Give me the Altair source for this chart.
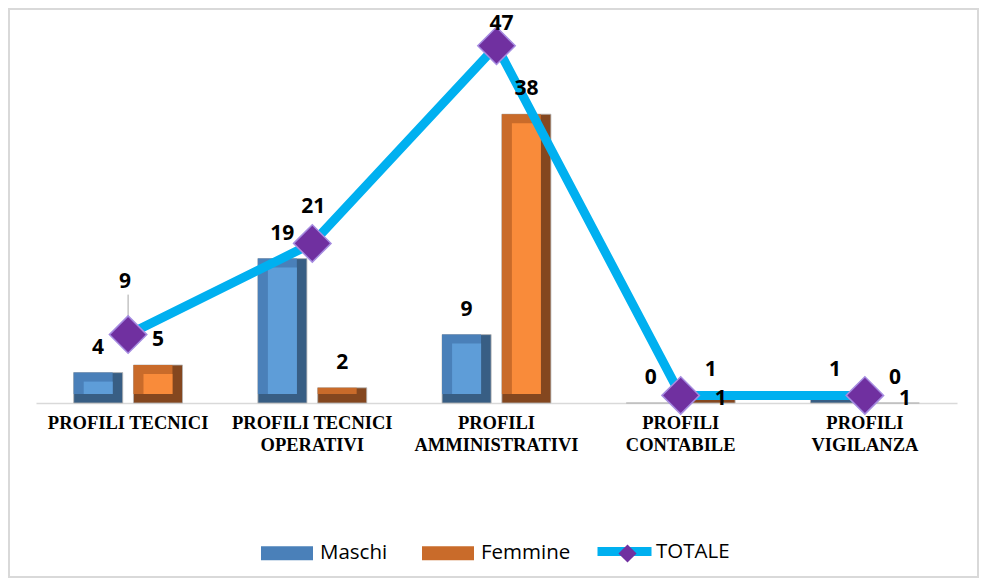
import altair as alt
import pandas as pd

categorie = ["PROFILI TECNICI", "PROFILI TECNICI OPERATIVI", "PROFILI AMMINISTRATIVI",
             "PROFILI CONTABILE", "PROFILI VIGILANZA"]
maschi = [4, 19, 9, 0, 1]
femmine = [5, 2, 38, 1, 0]
totale = [9, 21, 47, 1, 1]
serie = ["Maschi", "Femmine"]

rows = []
for c, m, f in zip(categorie, maschi, femmine):
    rows.append({"Categoria": c, "Serie": "Maschi", "Valore": m})
    rows.append({"Categoria": c, "Serie": "Femmine", "Valore": f})
bars_df = pd.DataFrame(rows)
tot_df = pd.DataFrame({"Categoria": categorie, "Totale": totale, "Serie": "TOTALE"})

label_expr = ("datum.value == 'PROFILI TECNICI' ? datum.value : "
              "datum.value == 'PROFILI TECNICI OPERATIVI' ? ['PROFILI TECNICI', 'OPERATIVI'] : "
              "split(datum.value, ' ')")

x_enc = alt.X("Categoria:N", sort=categorie,
              scale=alt.Scale(domain=categorie, paddingInner=0, paddingOuter=0),
              axis=alt.Axis(title=None, labelAngle=0, ticks=False, domainColor="#D9D9D9",
                            domainWidth=1.5, labelFont="Liberation Serif", labelFontWeight="bold",
                            labelFontSize=18.5, labelColor="#000000", labelPadding=10,
                            labelLineHeight=22, labelBaseline="top", labelExpr=label_expr,
                            labelLimit=300))
y_scale = alt.Scale(domain=[0, 50])


def xoff(pi, po, align=0.5):
    return alt.XOffset("Serie:N", sort=serie,
                       scale=alt.Scale(domain=serie, paddingInner=pi, paddingOuter=po,
                                       align=align))


base = alt.Chart(bars_df)
is_m = alt.datum.Serie == "Maschi"

# outer body (right side / bottom facet)
outer = base.mark_bar(strokeWidth=0.8, stroke="#B5B5B5").encode(
    x=x_enc,
    xOffset=xoff(0.18, 0.63),
    y=alt.Y("Valore:Q", scale=y_scale, axis=None),
    color=alt.condition(is_m, alt.value("#385E84"), alt.value("#84471F")),
)

# left side facet (carries the legend)
side = base.transform_filter(alt.datum.Valore >= 2).mark_bar(y2Offset=-9).encode(
    x=x_enc,
    xOffset=xoff(0.348, 0.714, 0.441),
    y=alt.Y("Valore:Q", scale=y_scale),
    y2=alt.datum(0),
    color=alt.Color("Serie:N", sort=serie,
                    scale=alt.Scale(domain=serie, range=["#4A80B9", "#C96B2A"]),
                    legend=alt.Legend(title=None, orient="none", legendX=225, legendY=504,
                                      direction="horizontal", symbolType="M-1,-0.27H1V0.27H-1Z",
                                      symbolSize=2704, symbolStrokeWidth=0, symbolOpacity=1,
                                      labelFont="Open Sans", labelFontSize=20.5,
                                      labelColor="#000000", labelOffset=7, columnPadding=34,
                                      padding=0)),
)

# front face
face = base.transform_filter(alt.datum.Valore >= 3).mark_bar(yOffset=9, y2Offset=-9).encode(
    x=x_enc,
    xOffset=xoff(0.515, 0.798),
    y=alt.Y("Valore:Q", scale=y_scale),
    y2=alt.datum(0),
    color=alt.condition(is_m, alt.value("#5E9DD8"), alt.value("#F98B3A")),
)

txt = dict(font="Open Sans", fontWeight="bold", fontSize=21, color="#000000")

lab_m = base.transform_filter(is_m).mark_text(dx=-30, dy=-25, **txt).encode(
    x=x_enc, y=alt.Y("Valore:Q", scale=y_scale), text="Valore:Q")
lab_f = base.transform_filter(alt.datum.Serie == "Femmine").mark_text(dx=30, dy=-25, **txt).encode(
    x=x_enc, y=alt.Y("Valore:Q", scale=y_scale), text="Valore:Q")

tot_base = alt.Chart(tot_df)

line = tot_base.mark_line(strokeWidth=9, strokeCap="round", strokeJoin="round").encode(
    x=x_enc,
    y=alt.Y("Totale:Q", scale=y_scale),
    stroke=alt.Stroke("Serie:N", scale=alt.Scale(domain=["TOTALE"], range=["#00B0F0"]),
                      legend=alt.Legend(title=None, orient="none", legendX=557, legendY=497,
                                        symbolType="stroke", symbolSize=2916,
                                        symbolStrokeWidth=9, labelFont="Open Sans",
                                        labelFontSize=20.5, labelColor="#000000",
                                        labelOffset=0, padding=0)),
)

points = tot_base.mark_point(filled=True, size=1400, opacity=1, stroke="#A58BE0",
                             strokeWidth=1.5, fill="#7030A0").encode(
    x=x_enc,
    y=alt.Y("Totale:Q", scale=y_scale),
    shape=alt.Shape("Serie:N", scale=alt.Scale(domain=["TOTALE"], range=["diamond"]),
                    legend=alt.Legend(title=None, orient="none", legendX=582, legendY=521,
                                      symbolSize=330, symbolFillColor="#7030A0",
                                      symbolStrokeWidth=0, labelExpr="''", padding=0)),
)

tot_hi = tot_base.transform_filter(alt.datum.Totale >= 30).mark_text(
    dx=5, dy=-22, **txt).encode(x=x_enc, y=alt.Y("Totale:Q", scale=y_scale), text="Totale:Q")
tot_mid = tot_base.transform_filter((alt.datum.Totale >= 15) & (alt.datum.Totale < 30)).mark_text(
    dx=1, dy=-36, **txt).encode(x=x_enc, y=alt.Y("Totale:Q", scale=y_scale), text="Totale:Q")
tot_low = tot_base.transform_filter((alt.datum.Totale >= 5) & (alt.datum.Totale < 15)).mark_text(
    dx=-3, dy=-53, **txt).encode(x=x_enc, y=alt.Y("Totale:Q", scale=y_scale), text="Totale:Q")
leader = tot_base.transform_filter((alt.datum.Totale >= 5) & (alt.datum.Totale < 15)).mark_rule(
    color="#A6A6A6", strokeWidth=1, yOffset=-40, y2Offset=-8).encode(
    x=x_enc, y=alt.Y("Totale:Q", scale=y_scale), y2=alt.Y2("Totale:Q"))
tot_zero = tot_base.transform_filter(alt.datum.Totale < 5).mark_text(
    dx=40, dy=4, **txt).encode(x=x_enc, y=alt.Y("Totale:Q", scale=y_scale), text="Totale:Q")

frame = alt.Chart(pd.DataFrame({"a": [0]})).mark_rect(
    fill=None, stroke="#D9D9D9", strokeWidth=2).encode(
    x=alt.value(-27), x2=alt.value(942), y=alt.value(-14), y2=alt.value(554))

chart = alt.layer(frame, outer, side, face, leader, line, points, lab_m, lab_f,
                  tot_hi, tot_mid, tot_low, tot_zero).resolve_scale(
    color="independent", stroke="independent", shape="independent",
    xOffset="independent").properties(
    width=921, height=380,
    autosize=alt.AutoSizeParams(type="none"),
    padding={"left": 28, "top": 15, "right": 23, "bottom": 177},
    background="#FFFFFF",
).configure_view(stroke=None)

chart.save("out.html", embed_options={"renderer": "svg", "actions": False})
